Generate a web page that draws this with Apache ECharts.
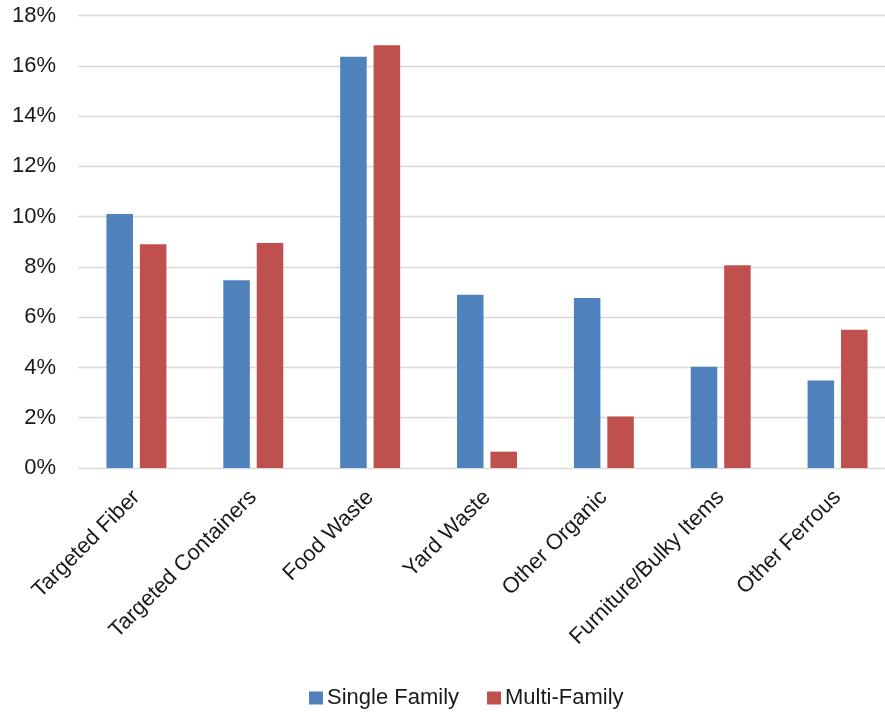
<!DOCTYPE html>
<html>
<head>
<meta charset="utf-8">
<script src="https://cdn.jsdelivr.net/npm/echarts@6/dist/echarts.min.js"></script>
<style>
html,body{margin:0;padding:0;background:#fff;}
#c{width:885px;height:712px;}
</style>
</head>
<body>
<div id="c"></div>
<script>
const categories = ["Targeted Fiber","Targeted Containers","Food Waste","Yard Waste","Other Organic","Furniture/Bulky Items","Other Ferrous"];
const singleFamily = [10.1, 7.47, 16.36, 6.89, 6.76, 4.03, 3.48];
const multiFamily = [8.9, 8.95, 16.82, 0.65, 2.05, 8.07, 5.5];
const seriesNames = ["Single Family","Multi-Family"];
const yTicks = {min:0, max:18, interval:2};

const font = "Liberation Sans";
const chart = echarts.init(document.getElementById('c'));
chart.setOption({
  animation:false,
  textStyle:{fontFamily:font},
  grid:{left:78, width:818, top:15.5, bottom:244, containLabel:false, outerBoundsMode:'none'},
  legend:{
    bottom:-2, left:304,
    itemWidth:14, itemHeight:13, itemGap:28,
    icon:'rect',
    textStyle:{fontSize:22, color:'#1a1a1a', fontFamily:font, padding:[0,0,0,-1]},
    data:seriesNames
  },
  xAxis:{
    type:'category', data:categories,
    axisLine:{show:false}, axisTick:{show:false},
    axisLabel:{rotate:45, fontSize:22, color:'#1a1a1a', margin:26, interval:0, fontFamily:font}
  },
  yAxis:{
    type:'value', min:yTicks.min, max:yTicks.max, interval:yTicks.interval,
    axisLine:{show:false}, axisTick:{show:false},
    axisLabel:{formatter:v=>v+'%', fontSize:22, color:'#1a1a1a', margin:22, fontFamily:font},
    splitLine:{lineStyle:{color:'#d9d9d9', width:1.3}}
  },
  series:[
    {name:seriesNames[0], type:'bar', data:singleFamily, barWidth:'22.7%', barGap:'26%',
     itemStyle:{color:'#4f81bd'}},
    {name:seriesNames[1], type:'bar', data:multiFamily, barWidth:'22.7%', barGap:'26%',
     itemStyle:{color:'#c0504d'}}
  ]
});
</script>
</body>
</html>
